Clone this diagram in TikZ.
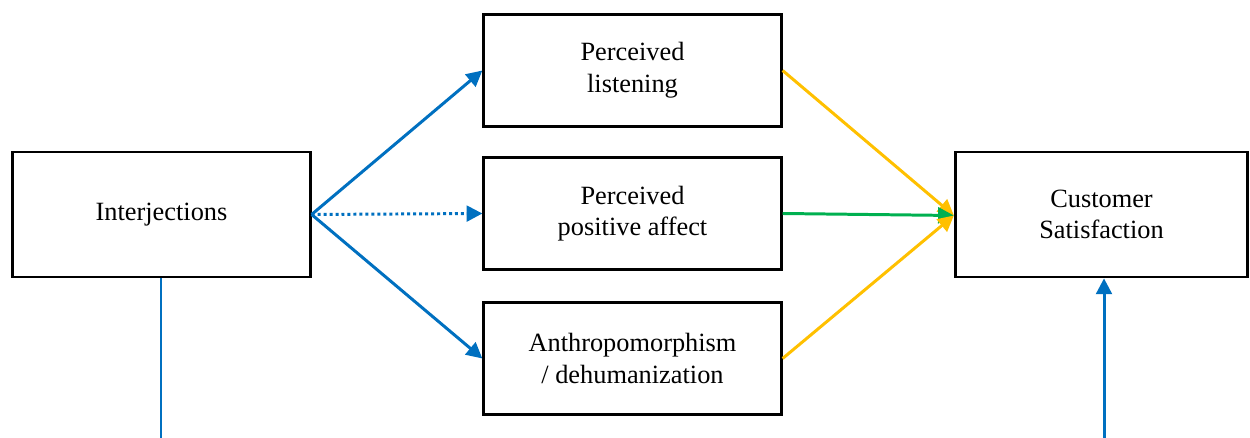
\documentclass[tikz,border=0pt]{standalone}
\usepackage{fontspec}
\setmainfont{Liberation Serif}
\usepackage{xcolor}
\usetikzlibrary{positioning,calc,arrows.meta}

\definecolor{pathblue}{HTML}{0070C0}
\definecolor{pathyellow}{HTML}{FFC000}
\definecolor{pathgreen}{HTML}{00B050}

\tikzset{
    varbox/.style={draw, line width=1.6pt, align=center, font=\fontsize{15}{18}\selectfont,
        minimum width=5.95cm, minimum height=2.25cm, inner sep=2pt},
    effect/.style={line width=1.7pt, -{Triangle[length=9pt,width=9pt]}},
}

\begin{document}
\begin{tikzpicture}[x=0.02cm, y=-0.02cm]
    \useasboundingbox (0,0) rectangle (1250,438);

    % variables
    \node[varbox, minimum height=2.5cm] (inter) at (161.5,214.5) {Interjections};
    \node[varbox] (listen) at (632.5,70.5) {Perceived\\listening};
    \node[varbox] (affect) at (632.5,213.5) {Perceived\\positive affect};
    \node[varbox] (anthro) at (632.5,358.5) {Anthropomorphism\\/ dehumanization};
    \node[varbox, minimum width=5.85cm, minimum height=2.5cm] (sat) at (1101.5,214.5) {Customer\\Satisfaction};

    % free ends at the bottom
    \coordinate (leftend) at (161,445);
    \coordinate (rightend) at (1104,445);

    % from interjections
    \draw[effect, pathblue] (inter.east) -- (listen.west);
    \draw[effect, pathblue, dash pattern=on 1.7pt off 1.7pt] (inter.east) -- (affect.west);
    \draw[effect, pathblue] (inter.east) -- (anthro.west);

    % to satisfaction
    \draw[effect, pathyellow] (listen.east) -- ($(sat.west)+(0,1)$);
    \draw[effect, pathgreen] (affect.east) -- ($(sat.west)+(0,1)$);
    \draw[effect, pathyellow] (anthro.east) -- ($(sat.west)+(0,1)$);

    % vertical lines
    \draw[line width=1.7pt, pathblue] (inter.south -| leftend) -- (leftend);
    \draw[effect, pathblue] (rightend) -- (rightend |- sat.south);

\end{tikzpicture}
\end{document}
